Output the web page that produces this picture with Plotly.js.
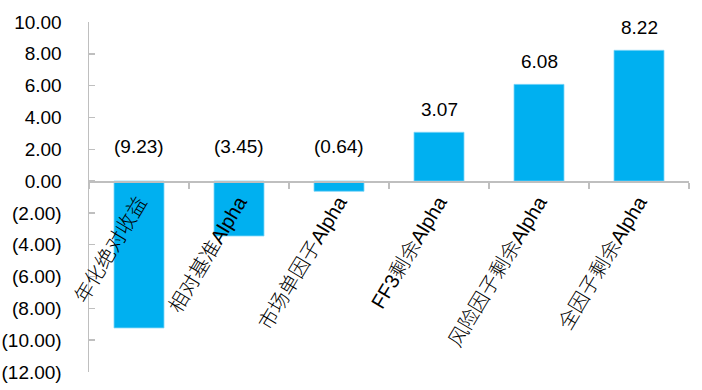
<!DOCTYPE html>
<html>
<head>
<meta charset="utf-8">
<script src="https://cdn.plot.ly/plotly-3.0.1.min.js"></script>
<style>html,body{margin:0;padding:0;background:#fff;}#chart{width:702px;height:390px;}</style>
</head>
<body>
<div id="chart"></div>
<script>
const categories = ["年化绝对收益", "相对基准Alpha", "市场单因子Alpha", "FF3剩余Alpha", "风险因子剩余Alpha", "全因子剩余Alpha"];
const values = [-9.23, -3.45, -0.64, 3.07, 6.08, 8.22];
const valueLabels = ["(9.23)", "(3.45)", "(0.64)", "3.07", "6.08", "8.22"];
const tickVals = [10, 8, 6, 4, 2, 0, -2, -4, -6, -8, -10, -12];
const tickText = ["10.00", "8.00", "6.00", "4.00", "2.00", "0.00", "(2.00)", "(4.00)", "(6.00)", "(8.00)", "(10.00)", "(12.00)"];

const numFont = "Liberation Sans, Arial, sans-serif";
const catFont = "Liberation Sans, Noto Sans CJK SC, sans-serif";

const annotations = categories.map((c, i) => ({
  x: c,
  y: Math.max(values[i], 0),
  xref: "x", yref: "y",
  text: valueLabels[i],
  showarrow: false,
  yanchor: "middle",
  yshift: values[i] < 0 ? 35 : 23,
  font: {family: numFont, size: 19, color: "#000"}
}));

const trace = {
  type: "bar",
  x: categories,
  y: values,
  width: 0.5,
  marker: {color: "#00B0F0", line: {color: "#7fd6f7", width: 0.8}},
  hoverinfo: "none"
};

const layout = {
  width: 702, height: 390,
  margin: {l: 89, r: 13, t: 22, b: 18},
  paper_bgcolor: "#fff", plot_bgcolor: "#fff",
  showlegend: false,
  xaxis: {
    type: "category",
    anchor: "free",
    position: 12 / 22,
    showline: true, linecolor: "#bfbfbf", linewidth: 1.5,
    ticks: "outside", tickson: "boundaries", ticklen: 6, tickcolor: "#bfbfbf", tickwidth: 1.5,
    tickangle: -59,
    tickfont: {family: catFont, size: 20, color: "#000", weight: 300},
    showgrid: false, zeroline: false,
    fixedrange: true
  },
  yaxis: {
    range: [-12, 10],
    tickvals: tickVals,
    ticktext: tickText,
    showline: true, linecolor: "#bfbfbf", linewidth: 1.5,
    ticks: "inside", ticklen: 6, tickcolor: "#bfbfbf", tickwidth: 1.5,
    ticklabelstandoff: 22,
    tickfont: {family: numFont, size: 19, color: "#000"},
    showgrid: false, zeroline: false,
    fixedrange: true
  },
  annotations: annotations
};

Plotly.newPlot("chart", [trace], layout, {displayModeBar: false, staticPlot: true});
</script>
</body>
</html>
